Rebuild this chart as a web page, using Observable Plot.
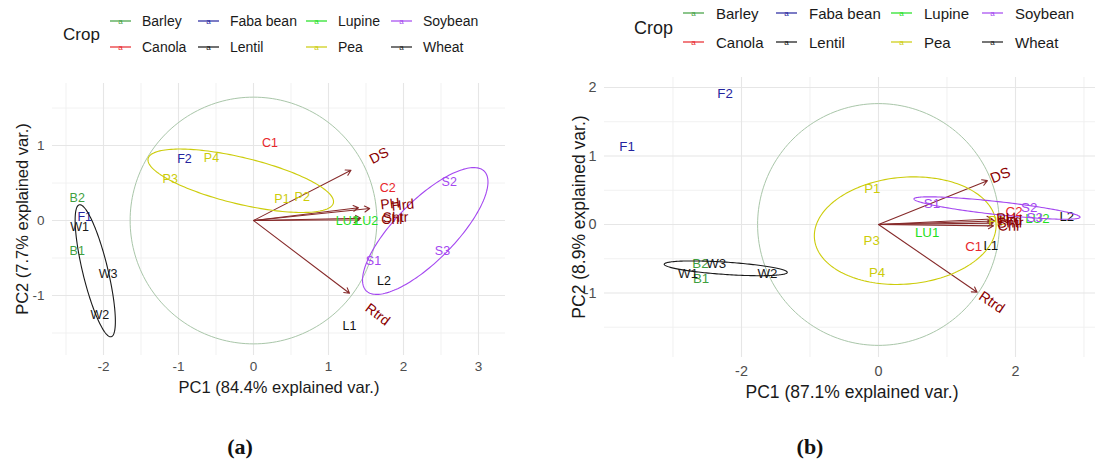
<!DOCTYPE html>
<html><head><meta charset="utf-8">
<script src="https://cdn.jsdelivr.net/npm/d3@7"></script>
<script src="https://cdn.jsdelivr.net/npm/@observablehq/plot@0.6"></script>
<style>
body{margin:0;background:#fff;font-family:"Liberation Sans",Arial,sans-serif;}
#root{position:relative;width:1095px;height:463px;overflow:hidden;background:#fff;}
.abs{position:absolute;white-space:nowrap;line-height:1;}
.panel{position:absolute;top:0;}
</style></head><body><div id="root"></div>
<script>
// ---------- data ----------
const crops = ["Barley","Canola","Faba bean","Lentil","Lupine","Pea","Soybean","Wheat"];
const cropColors = ["#3f9f3f","#e8262b","#24249e","#111111","#1fe01f","#cccc0a","#a447f0","#1a1a1a"];

const sampleNames = ["B1","B2","C1","C2","F1","F2","L1","L2","LU1","LU2","P1","P2","P3","P4","S1","S2","S3","W1","W2","W3"];
const sampleCrops = ["Barley","Barley","Canola","Canola","Faba bean","Faba bean","Lentil","Lentil","Lupine","Lupine","Pea","Pea","Pea","Pea","Soybean","Soybean","Soybean","Wheat","Wheat","Wheat"];
// panel (a)
const pc1A = [-2.35,-2.35,0.22,1.79,-2.25,-0.92,1.28,1.74,1.25,1.51,0.38,0.65,-1.11,-0.56,1.60,2.61,2.52,-2.32,-2.05,-1.94];
const pc2A = [-0.41,0.30,1.04,0.44,0.05,0.82,-1.40,-0.81,0.00,0.00,0.29,0.31,0.56,0.84,-0.54,0.52,-0.41,-0.09,-1.26,-0.71];
// panel (b)
const pc1B = [-2.59,-2.60,1.39,1.98,-3.67,-2.24,1.64,2.75,0.71,2.32,-0.09,1.72,-0.10,-0.02,0.78,2.20,2.28,-2.78,-1.62,-2.37];
const pc2B = [-0.79,-0.58,-0.33,0.18,1.14,1.91,-0.31,0.11,-0.12,0.08,0.52,0.05,-0.23,-0.71,0.30,0.25,0.10,-0.72,-0.72,-0.58];

const varNames = ["DS","PH","Hrd","Shtr","Chl","Rtrd"];
const varA1 = [1.30,1.40,1.55,1.43,1.41,1.28];
const varA2 = [0.67,0.17,0.16,0.03,0.01,-0.97];
const varB1 = [1.59,1.66,1.70,1.67,1.68,1.44];
const varB2 = [0.64,0.08,0.05,0.02,-0.02,-0.99];

// group ellipses (centre, semi-axes, angle in degrees)
const ellCrops = ["Wheat","Pea","Soybean"];
const ellA_cx = [-2.11,-0.17,2.29], ellA_cy = [-0.67,0.53,-0.14], ellA_a = [0.905,1.27,1.12], ellA_b = [0.168,0.31,0.40], ellA_ang = [-76.4,-13.5,45.4];
const ellB_cx = [-2.23,0.39,1.73], ellB_cy = [-0.64,-0.09,0.24], ellB_a = [0.90,1.33,1.22], ellB_b = [0.09,0.78,0.095], ellB_ang = [-3.8,5,-6.3];
const circleRA = 1.645, circleRB = 1.765;

const xTicksA = [-2,-1,0,1,2,3], yTicksA = [-1,0,1];
const xMinorA = [-2.5,-1.5,-0.5,0.5,1.5,2.5], yMinorA = [-1.5,-0.5,0.5,1.5];
const xTicksB = [-2,0,2], yTicksB = [-1,0,1,2];
const xMinorB = [-3,-1,1,3], yMinorB = [-1.5,-0.5,0.5,1.5];

const xTitleA = "PC1 (84.4% explained var.)", yTitleA = "PC2 (7.7% explained var.)";
const xTitleB = "PC1 (87.1% explained var.)", yTitleB = "PC2 (8.9% explained var.)";

// ---------- drawing ----------
const root = document.getElementById("root");
const FONT = '"Liberation Sans", Arial, sans-serif';
const fmt = d => String(d);

function addText(txt, x, y, o = {}) {
  const d = document.createElement("div");
  d.className = "abs";
  d.textContent = txt;
  Object.assign(d.style, {
    left: x + "px", top: y + "px",
    transform: o.transform || "translate(-50%,-50%)",
    fontSize: o.size + "px", color: o.color || "#1a1a1a",
    fontFamily: o.family || FONT, fontWeight: o.weight || "normal"
  });
  root.appendChild(d);
  return d;
}

function ellipsePoints(cx, cy, a, b, ang, crop) {
  const th = ang * Math.PI / 180, pts = [];
  for (let i = 0; i <= 180; i++) {
    const t = i / 180 * 2 * Math.PI;
    pts.push({crop,
      x: cx + a * Math.cos(t) * Math.cos(th) - b * Math.sin(t) * Math.sin(th),
      y: cy + a * Math.cos(t) * Math.sin(th) + b * Math.sin(t) * Math.cos(th)});
  }
  return pts;
}

function panel(cfg) {
  const {left, width, height, mL, mR, mT, mB, xDomain, yDomain} = cfg;
  const ppu = (width - mL - mR) / (xDomain[1] - xDomain[0]);
  const samples = sampleNames.map((n, i) => ({name: n, crop: sampleCrops[i], x: cfg.pc1[i], y: cfg.pc2[i]}));
  const vars = varNames.map((n, i) => {
    const x = cfg.v1[i], y = cfg.v2[i], a = Math.atan2(y, x), off = cfg.labelOff / ppu;
    return {name: n, x, y, lx: x + off * Math.cos(a), ly: y + off * Math.sin(a), rot: -a * 180 / Math.PI};
  });
  const ells = ellCrops.flatMap((c, i) => ellipsePoints(cfg.ecx[i], cfg.ecy[i], cfg.ea[i], cfg.eb[i], cfg.eang[i], c));
  const circle = d3.range(0, 201).map(i => ({x: cfg.circleR * Math.cos(i / 200 * 2 * Math.PI), y: cfg.circleR * Math.sin(i / 200 * 2 * Math.PI)}));

  const svg = Plot.plot({
    width, height, marginLeft: mL, marginRight: mR, marginTop: mT, marginBottom: mB,
    x: {domain: xDomain, label: null},
    y: {domain: yDomain, label: null},
    color: {domain: crops, range: cropColors},
    style: {fontFamily: FONT, background: "transparent", overflow: "visible"},
    marks: [
      Plot.ruleX(cfg.xMinor, {stroke: "#efefef", strokeWidth: 0.9}),
      Plot.ruleY(cfg.yMinor, {stroke: "#efefef", strokeWidth: 0.9}),
      Plot.ruleX(cfg.xTicks, {stroke: "#e6e6e6", strokeWidth: 1.1}),
      Plot.ruleY(cfg.yTicks, {stroke: "#e6e6e6", strokeWidth: 1.1}),
      Plot.axisX(cfg.xTicks, {tickSize: 0, tickPadding: cfg.tickPadX, fontSize: cfg.tickFont, color: "#4d4d4d", label: null, tickFormat: fmt}),
      Plot.axisY(cfg.yTicks, {tickSize: 0, tickPadding: 8, fontSize: cfg.tickFont, color: "#4d4d4d", label: null, tickFormat: fmt}),
      Plot.line(circle, {x: "x", y: "y", stroke: "#a9c6a9", strokeWidth: 1}),
      Plot.arrow(vars, {x1: () => 0, y1: () => 0, x2: "x", y2: "y", stroke: "#862a2a", strokeWidth: 1.1, headLength: 8, headAngle: 60}),
      Plot.text(samples, {x: "x", y: "y", text: "name", fill: "crop", fontSize: cfg.sampleFont}),
      Plot.line(ells, {x: "x", y: "y", z: "crop", stroke: "crop", strokeWidth: 1.1}),
      Plot.text(vars, {x: "lx", y: "ly", text: "name", rotate: "rot", textAnchor: "start", lineAnchor: "middle", fill: "#8b0000", fontSize: cfg.varFont})
    ]
  });
  svg.classList.add("panel");
  svg.style.left = left + "px";
  root.appendChild(svg);

  // axis titles
  addText(cfg.xTitle, cfg.xTitlePos[0], cfg.xTitlePos[1], {size: cfg.titleFont});
  addText(cfg.yTitle, cfg.yTitlePos[0], cfg.yTitlePos[1], {size: cfg.titleFont, transform: "translate(-50%,-50%) rotate(-90deg)"});
  addText(cfg.caption, cfg.capPos[0], cfg.capPos[1], {size: 22, weight: "bold", family: '"Liberation Serif", "DejaVu Serif", serif', color: "#111"});

  // legend
  const L = cfg.legend;
  addText("Crop", L.titleX, L.titleY, {size: L.titleSize, transform: "translate(0,-50%)"});
  crops.forEach((c, i) => {
    const col = Math.floor(i / 2), row = i % 2;
    const kx = L.colX[col], ky = L.rowY[row], color = cropColors[i];
    const k = document.createElement("div");
    k.className = "abs";
    Object.assign(k.style, {left: kx + "px", top: (ky - 7) + "px", width: "22px", height: "14px"});
    k.innerHTML = `<svg width="22" height="14"><line x1="0" x2="21" y1="7" y2="7" stroke="${color}" stroke-width="1.2"/>` +
      `<text x="10.5" y="7" dy="0.35em" text-anchor="middle" font-size="8" font-family='Liberation Sans, Arial' fill="${color}">a</text></svg>`;
    root.appendChild(k);
    addText(c, kx + L.labelDX, ky, {size: L.labelSize, transform: "translate(0,-50%)"});
  });
}

panel({
  left: 0, width: 547, height: 400, mL: 52, mR: 42, mT: 83, mB: 45,
  xDomain: [-2.68, 3.36], yDomain: [-1.8, 1.827],
  pc1: pc1A, pc2: pc2A, v1: varA1, v2: varA2,
  ecx: ellA_cx, ecy: ellA_cy, ea: ellA_a, eb: ellA_b, eang: ellA_ang, circleR: circleRA,
  xTicks: xTicksA, yTicks: yTicksA, xMinor: xMinorA, yMinor: yMinorA,
  tickFont: 13.5, tickPadX: 6, sampleFont: 12.5, varFont: 14, labelOff: 22,
  xTitle: xTitleA, yTitle: yTitleA, xTitlePos: [279, 387], yTitlePos: [21.5, 219], titleFont: 16.5,
  caption: "(a)", capPos: [240, 447],
  legend: {titleX: 63, titleY: 34, titleSize: 17, colX: [110, 198, 306, 391], rowY: [20.7, 46.7], labelDX: 32, labelSize: 14}
});

panel({
  left: 547, width: 548, height: 400, mL: 57, mR: 0, mT: 77, mB: 43,
  xDomain: [-4.0, 3.168], yDomain: [-1.942, 2.146],
  pc1: pc1B, pc2: pc2B, v1: varB1, v2: varB2,
  ecx: ellB_cx, ecy: ellB_cy, ea: ellB_a, eb: ellB_b, eang: ellB_ang, circleR: circleRB,
  xTicks: xTicksB, yTicks: yTicksB, xMinor: xMinorB, yMinor: yMinorB,
  tickFont: 14.4, tickPadX: 8, sampleFont: 13.3, varFont: 14.5, labelOff: 4,
  xTitle: xTitleB, yTitle: yTitleB, xTitlePos: [852, 393], yTitlePos: [580, 217], titleFont: 17.5,
  caption: "(b)", capPos: [810, 447],
  legend: {titleX: 634, titleY: 28, titleSize: 18, colX: [683, 776, 891, 982], rowY: [13, 42.4], labelDX: 33, labelSize: 15}
});
</script></body></html>
